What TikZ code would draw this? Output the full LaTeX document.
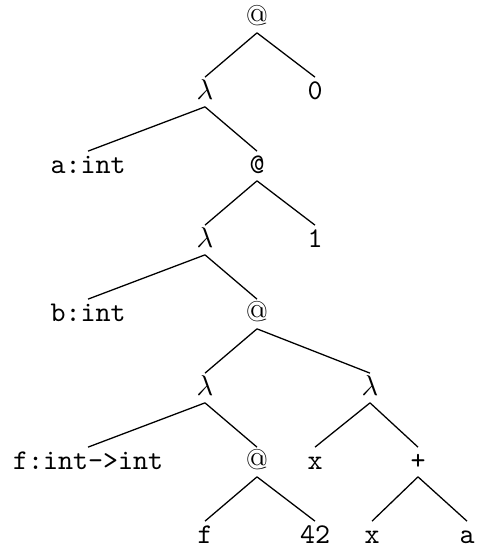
\documentclass[tikz,border=0pt]{standalone}
\begin{document}
\begin{tikzpicture}[x=0.35pt,y=-0.35pt,
  tn/.style={inner sep=0.5pt,text height=7pt,text depth=2pt,font=\ttfamily},
  rn/.style={tn,font=\rmfamily},
  edge/.style={line width=0.45pt}]
\useasboundingbox (0,0) rectangle (476,551);
% level 0
\node[rn] (r)   at (257,18)  {@};
% level 1
\node[rn] (l1)  at (205,92)  {$\lambda$};
\node[tn] (z)   at (315,92)  {0};
% level 2
\node[tn] (a)   at (88,166)  {a:int};
\node[tn] (ap2) at (257,166) {@};
% level 3
\node[rn] (l2)  at (205,240) {$\lambda$};
\node[tn] (one) at (315,240) {1};
% level 4
\node[tn] (b)   at (88,314)  {b:int};
\node[rn] (ap3) at (257,314) {@};
% level 5
\node[rn] (l3)  at (205,388) {$\lambda$};
\node[rn] (l4)  at (370,388) {$\lambda$};
% level 6
\node[tn] (f)   at (88,462)  {f:int->int};
\node[rn] (ap4) at (257,462) {@};
\node[tn] (x1)  at (315,462) {x};
\node[tn] (pl)  at (418,462) {+};
% level 7
\node[tn] (ff)  at (205,536) {f};
\node[tn] (n42) at (315,536) {42};
\node[tn] (x2)  at (372,536) {x};
\node[tn] (va)  at (467,536) {a};
% edges
\foreach \p/\c in {r/l1,r/z,l1/a,l1/ap2,ap2/l2,ap2/one,l2/b,l2/ap3,
                   ap3/l3,ap3/l4,l3/f,l3/ap4,l4/x1,l4/pl,
                   ap4/ff,ap4/n42,pl/x2,pl/va}
  \draw[edge] (\p.south) -- (\c.north);
\end{tikzpicture}
\end{document}
